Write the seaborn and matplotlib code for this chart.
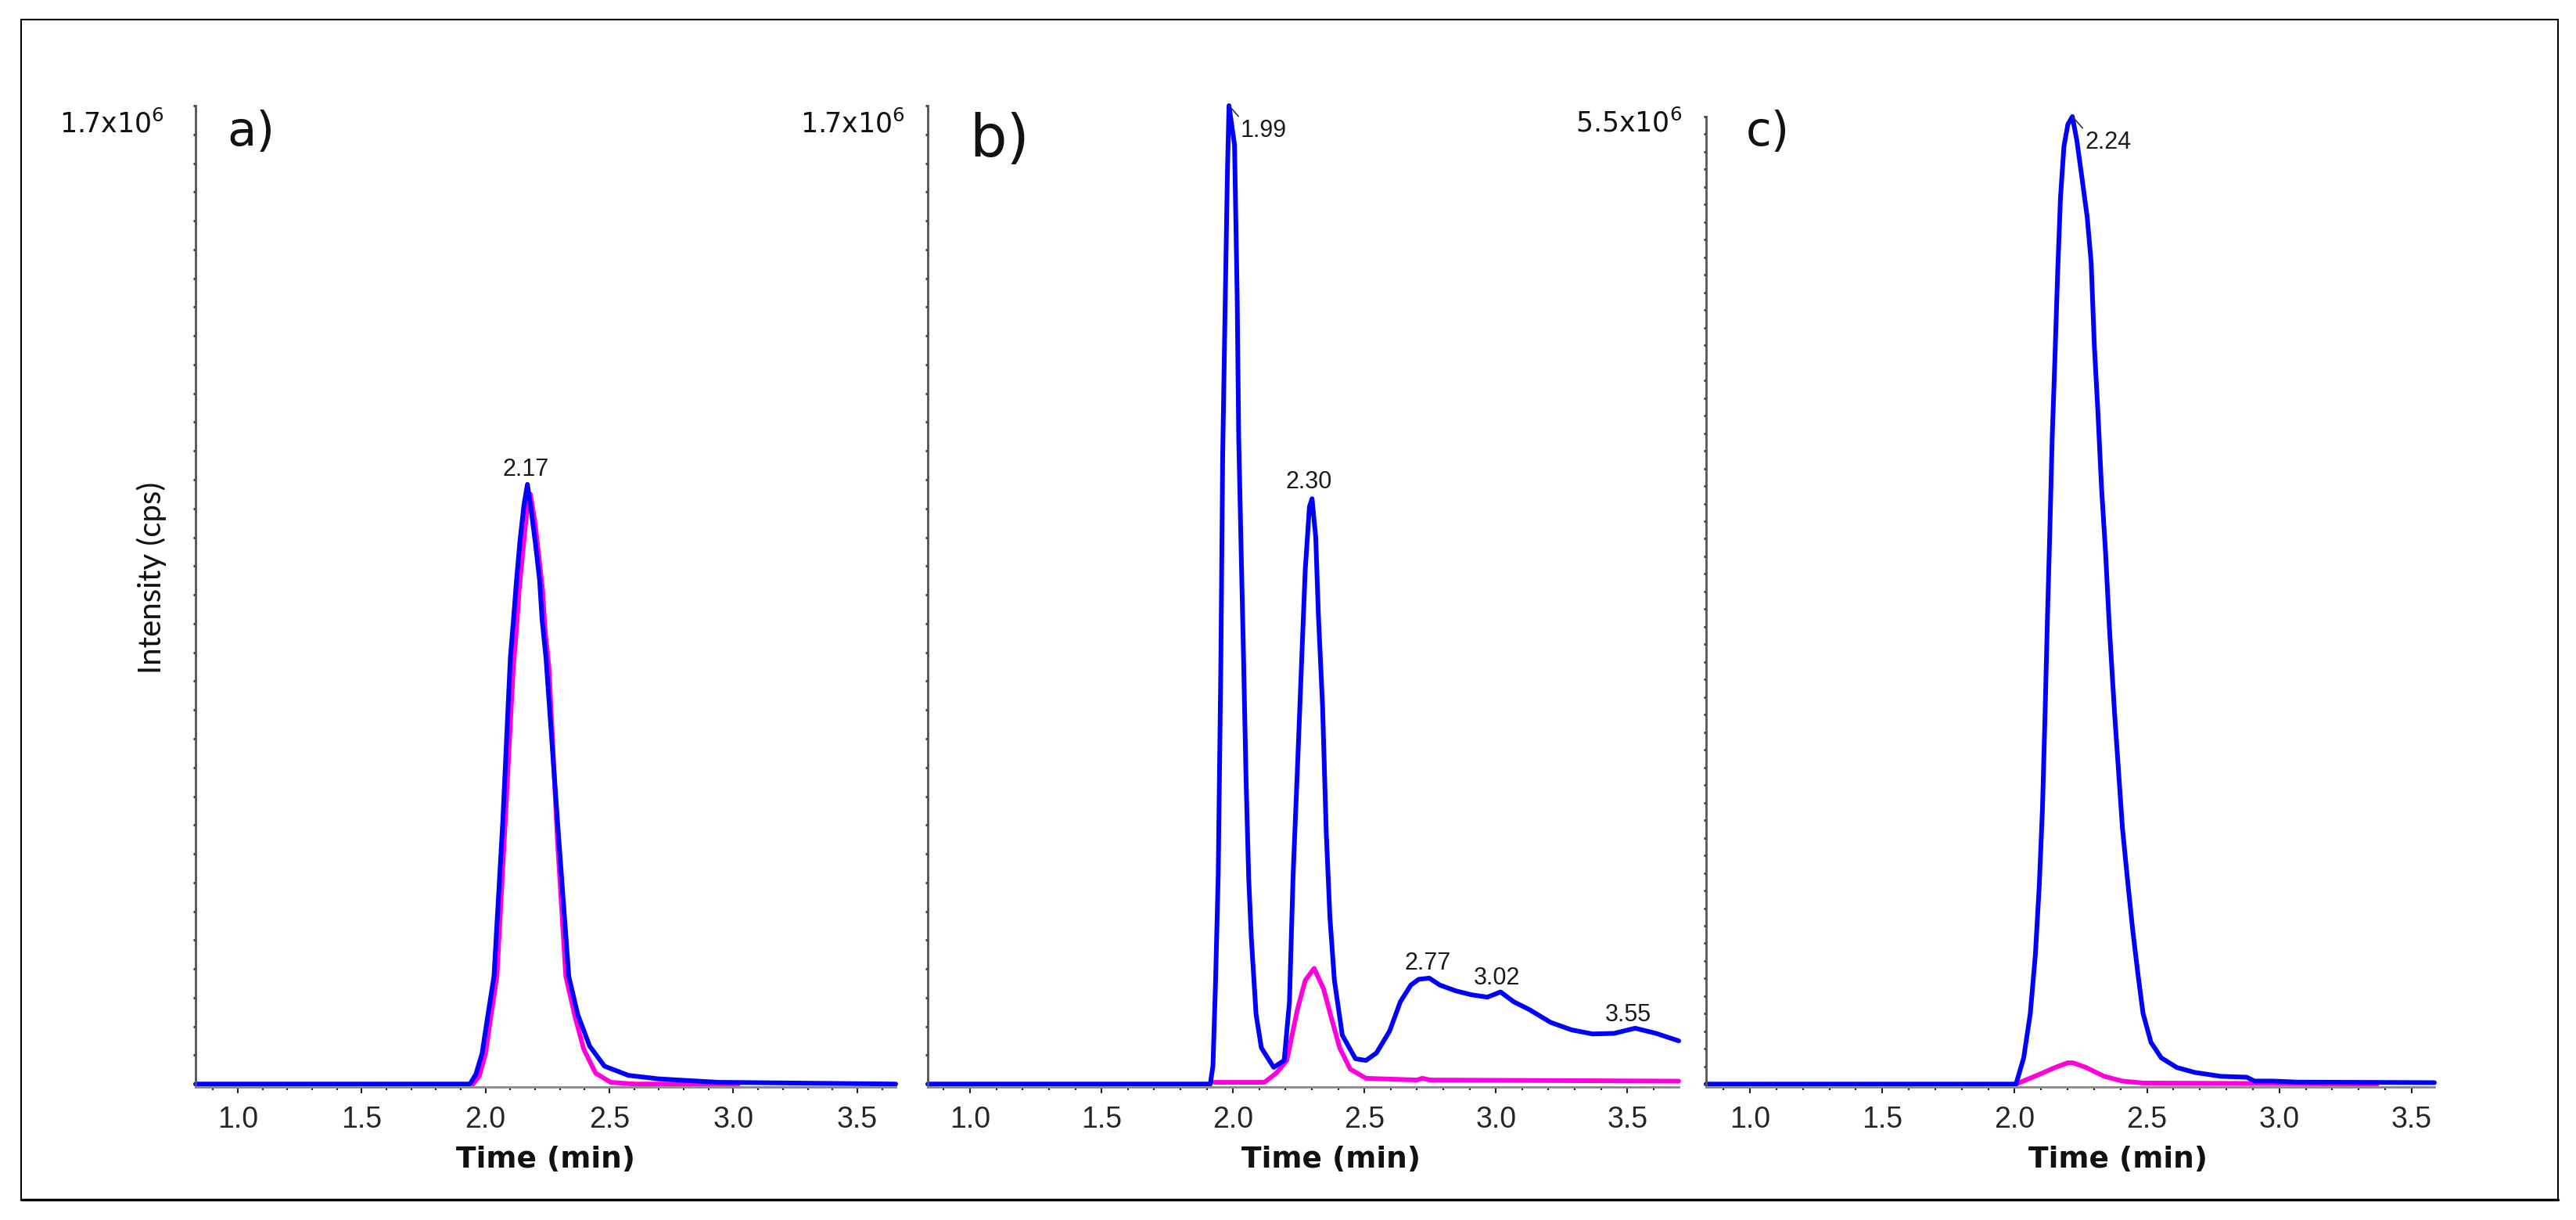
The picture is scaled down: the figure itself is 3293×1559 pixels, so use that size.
import numpy as np
import matplotlib.pyplot as plt
from matplotlib.patches import Rectangle
from matplotlib.lines import Line2D
import seaborn as sns

sns.set_theme(style="white")
plt.rcParams['font.family'] = ['DejaVu Sans']

BLUE = '#0000FF'
PINK = '#FF00DD'

# --- data: retention time (min) and intensity (10^6 cps) ---
# a)
a_blue_t = [0.83, 1.937, 1.961, 1.986, 2.01, 2.034, 2.07, 2.10, 2.113, 2.124, 2.139, 2.155, 2.169,
            2.187, 2.203, 2.218, 2.228, 2.244, 2.29, 2.336, 2.372, 2.42, 2.48, 2.577, 2.698, 2.94,
            3.18, 3.655]
a_blue_i = [0.0, 0.0, 0.017, 0.053, 0.121, 0.187, 0.459, 0.740, 0.808, 0.870, 0.944, 1.006, 1.042,
            0.988, 0.933, 0.876, 0.808, 0.740, 0.459, 0.187, 0.121, 0.066, 0.031, 0.015, 0.009,
            0.003, 0.002, 0.0]
a_pink_t = [1.95, 1.975, 2.00, 2.022, 2.046, 2.08, 2.112, 2.125, 2.136, 2.151, 2.167, 2.181, 2.199,
            2.215, 2.23, 2.24, 2.256, 2.29, 2.324, 2.36, 2.396, 2.444, 2.505, 2.6, 3.02]
a_pink_i = [0.0, 0.014, 0.053, 0.119, 0.187, 0.459, 0.723, 0.791, 0.859, 0.927, 0.995, 1.025, 0.978,
            0.918, 0.859, 0.791, 0.723, 0.425, 0.187, 0.119, 0.061, 0.019, 0.003, 0.0, 0.0]

# b)
b_blue_t = [0.839, 1.914, 1.924, 1.934, 1.944, 1.954, 1.961, 1.970, 1.979, 1.985, 2.006, 2.016,
            2.022, 2.03, 2.04, 2.05, 2.06, 2.07, 2.088, 2.108, 2.155, 2.195, 2.215, 2.229, 2.245,
            2.261, 2.275, 2.291, 2.301, 2.315, 2.325, 2.341, 2.355, 2.369, 2.386, 2.416, 2.466,
            2.506, 2.546, 2.596, 2.637, 2.677, 2.707, 2.747, 2.787, 2.847, 2.908, 2.968, 3.018,
            3.068, 3.129, 3.209, 3.289, 3.369, 3.45, 3.53, 3.61, 3.696]
b_blue_i = [0.0, 0.0, 0.032, 0.180, 0.364, 0.731, 1.093, 1.343, 1.584, 1.700, 1.632, 1.372,
            1.122, 0.952, 0.748, 0.527, 0.357, 0.253, 0.121, 0.063, 0.029, 0.041, 0.143, 0.364,
            0.544, 0.731, 0.893, 1.003, 1.017, 0.950, 0.816, 0.656, 0.437, 0.289, 0.180, 0.085,
            0.044, 0.041, 0.054, 0.092, 0.143, 0.172, 0.182, 0.184, 0.172, 0.162, 0.155, 0.151,
            0.160, 0.143, 0.129, 0.107, 0.094, 0.087, 0.088, 0.097, 0.088, 0.075]
b_pink_t = [1.93, 2.12, 2.165, 2.205, 2.245, 2.275, 2.309, 2.345, 2.375, 2.406, 2.446, 2.506,
            2.70, 2.72, 2.75, 3.696]
b_pink_i = [0.003, 0.003, 0.019, 0.041, 0.129, 0.180, 0.201, 0.165, 0.114, 0.063, 0.026, 0.010,
            0.007, 0.010, 0.007, 0.005]

# c)
c_blue_t = [0.834, 2.005, 2.034, 2.059, 2.078, 2.093, 2.105, 2.115, 2.124, 2.132, 2.142, 2.152,
            2.162, 2.173, 2.186, 2.201, 2.218, 2.235, 2.255, 2.274, 2.289, 2.301, 2.314, 2.328,
            2.343, 2.358, 2.377, 2.392, 2.407, 2.426, 2.446, 2.466, 2.485, 2.515, 2.554, 2.613,
            2.681, 2.779, 2.877, 2.906, 2.975, 3.07, 3.586]
c_blue_i = [0.0, 0.0, 0.149, 0.402, 0.732, 1.133, 1.568, 2.118, 2.662, 3.102, 3.685, 4.125,
            4.598, 5.038, 5.330, 5.456, 5.500, 5.363, 5.143, 4.928, 4.670, 4.197, 3.834, 3.394,
            3.031, 2.591, 2.118, 1.788, 1.458, 1.166, 0.875, 0.622, 0.402, 0.237, 0.149, 0.094,
            0.066, 0.044, 0.039, 0.017, 0.017, 0.011, 0.008]
c_pink_t = [2.005, 2.093, 2.152, 2.201, 2.22, 2.27, 2.338, 2.407, 2.485, 3.37]
c_pink_i = [0.0, 0.055, 0.094, 0.121, 0.121, 0.094, 0.044, 0.017, 0.006, 0.0]

# peak annotations
a_peaks = [2.169]
a_peak_labels = ['2.17']
b_peaks = [1.985, 2.301, 2.747, 3.018, 3.53]
b_peak_labels = ['1.99', '2.30', '2.77', '3.02', '3.55']
c_peaks = [2.218]
c_peak_labels = ['2.24']

W, H = 3293, 1559
fig = plt.figure(figsize=(W / 100, H / 100), dpi=100)


def make_panel(rect, xlim, ymax, ystep, blue, pink, xlab_x):
    ax = fig.add_axes(rect)
    sns.lineplot(x=pink[0], y=pink[1], ax=ax, color=PINK, lw=4.3, estimator=None, sort=False,
                 clip_on=False)
    sns.lineplot(x=blue[0], y=blue[1], ax=ax, color=BLUE, lw=4.3, estimator=None, sort=False,
                 clip_on=False)
    ax.set_xlim(*xlim)
    ax.set_ylim(-0.003 * ymax, ymax)
    ax.set_xticks([1.0, 1.5, 2.0, 2.5, 3.0, 3.5])
    ax.set_xticks(np.arange(0.9, xlim[1], 0.1), minor=True)
    ax.set_yticks(np.arange(0, ymax + 1e-9, ystep))
    ax.tick_params(axis='y', left=True, labelleft=False, direction='out', length=2.5, width=2,
                   color='#333333')
    ax.tick_params(axis='x', which='major', bottom=True, direction='out', length=6, width=1.5,
                   color='#222222', labelsize=27, pad=11)
    ax.tick_params(axis='x', which='minor', bottom=True, direction='out', length=3, width=1.5,
                   color='#222222')
    for lab in ax.get_xticklabels():
        lab.set_family('Liberation Sans')
    for s in ['top', 'right']:
        ax.spines[s].set_visible(False)
    ax.spines['left'].set_color('#555555')
    ax.spines['left'].set_linewidth(2)
    ax.spines['bottom'].set_color('#888888')
    ax.spines['bottom'].set_linewidth(2)
    ax.set_xlabel('Time (min)', fontsize=27, fontweight='bold', color='#111111')
    ax.xaxis.label.set_va('center')
    h_px = rect[3] * H
    ax.xaxis.set_label_coords(xlab_x, -93 / h_px)
    ax.set_ylabel('')
    return ax


def label_peaks(ax, t, i, peaks, labels, offsets, leader=False):
    for pt, lab, (dx, dy) in zip(peaks, labels, offsets):
        y = np.interp(pt, t, i)
        kw = dict(textcoords='offset pixels', fontsize=22, family='Liberation Sans',
                  color='#1a1a1a', va='baseline')
        if leader:
            ax.annotate(lab, xy=(pt, y), xytext=(dx, dy), ha='left',
                        arrowprops=dict(arrowstyle='-', lw=1.2, color='#333333', shrinkA=0,
                                        shrinkB=0, relpos=(0, 1)), **kw)
        else:
            ax.annotate(lab, xy=(pt, y), xytext=(dx, dy), ha='center', **kw)


bottom = 1 - 1389 / H
ax_a = make_panel([250 / W, bottom, 895 / W, 1254 / H], (0.83, 3.655), 1.7, 0.05,
                  (a_blue_t, a_blue_i), (a_pink_t, a_pink_i), 0.5)
ax_b = make_panel([1186 / W, bottom, 960 / W, 1254 / H], (0.839, 3.696), 1.7, 0.05,
                  (b_blue_t, b_blue_i), (b_pink_t, b_pink_i), 0.537)
ax_c = make_panel([2181 / W, bottom, 931 / W, 1240 / H], (0.834, 3.586), 5.5, 0.1,
                  (c_blue_t, c_blue_i), (c_pink_t, c_pink_i), 0.565)

label_peaks(ax_a, a_blue_t, a_blue_i, a_peaks, a_peak_labels, [(-2, 11)])
label_peaks(ax_b, b_blue_t, b_blue_i, b_peaks[:1], b_peak_labels[:1], [(15, -40)], leader=True)
label_peaks(ax_b, b_blue_t, b_blue_i, b_peaks[1:], b_peak_labels[1:],
            [(-4, 13), (-2, 11), (-5, 10), (-9, 9)])
label_peaks(ax_c, c_blue_t, c_blue_i, c_peaks, c_peak_labels, [(16, -41)], leader=True)

ax_a.set_ylabel('Intensity (cps)', fontsize=29, family='Lato', color='#111111')
ax_a.yaxis.label.set_va('center')
ax_a.yaxis.set_label_coords(-56 / 895, 0.519)

# scale maxima and panel letters
for xr, yc, txt in [(210, 158, '1.7x10$^6$'), (1157, 158, '1.7x10$^6$'), (2150, 157, '5.5x10$^6$')]:
    fig.text(xr / W, 1 - yc / H, txt, ha='right', va='center', fontsize=25, color='#111111')
for xc, yc, txt, fs in [(321, 170, 'a)', 44), (1278, 180, 'b)', 54), (2260, 170, 'c)', 43)]:
    fig.text(xc / W, 1 - yc / H, txt, ha='center', va='center', fontsize=fs, color='#111111')

# outer frame
x0, x1 = 27 / W, 3270 / W
y0, y1 = 1 - 1533 / H, 1 - 25 / H
fig.add_artist(Rectangle((x0, y0), x1 - x0, y1 - y0, transform=fig.transFigure, fill=False,
                         edgecolor='black', lw=1.5))
fig.add_artist(Line2D([x0, x1], [y0, y0], transform=fig.transFigure, color='black', lw=2.4))

fig.savefig('out.png', dpi=100)
